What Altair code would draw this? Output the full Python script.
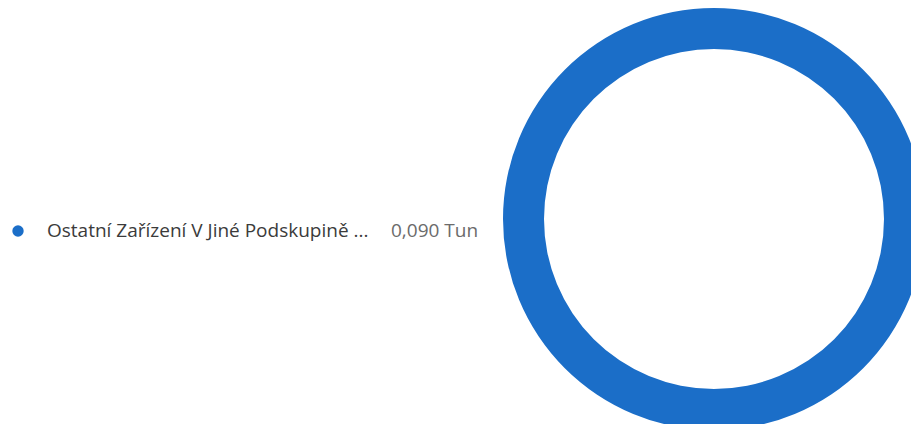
import altair as alt
import pandas as pd

categories = ["Ostatní Zařízení V Jiné Podskupině ..."]
values = [0.090]
unit = "Tun"

df = pd.DataFrame({
    "category": categories,
    "value": values,
    "label": [f"{v:.3f}".replace(".", ",") + " " + unit for v in values],
})

color = "#1B6EC8"
font = "Open Sans"

base = alt.Chart(df)

arc = base.mark_arc(radius=211, radius2=170, stroke=None).encode(
    theta=alt.Theta("value:Q", stack=True),
    color=alt.value(color),
    x=alt.value(706),
    y=alt.value(211),
)

dot = base.mark_point(filled=True, size=130, opacity=1).encode(
    x=alt.value(10),
    y=alt.value(223),
    color=alt.value(color),
)

name = base.mark_text(align="left", baseline="middle", font=font, fontSize=19, color="#3b3b3b").encode(
    x=alt.value(39),
    y=alt.value(223),
    text="category:N",
)

val = base.mark_text(align="left", baseline="middle", font=font, fontSize=19, color="#6b6b6b").encode(
    x=alt.value(383),
    y=alt.value(223),
    text="label:N",
)

chart = alt.layer(arc, dot, name, val).properties(
    width=903, height=416, padding=0, autosize=alt.AutoSizeParams(type="none")
).configure_view(stroke=None)

chart.save("out.html", embed_options={"renderer": "svg", "actions": False})
